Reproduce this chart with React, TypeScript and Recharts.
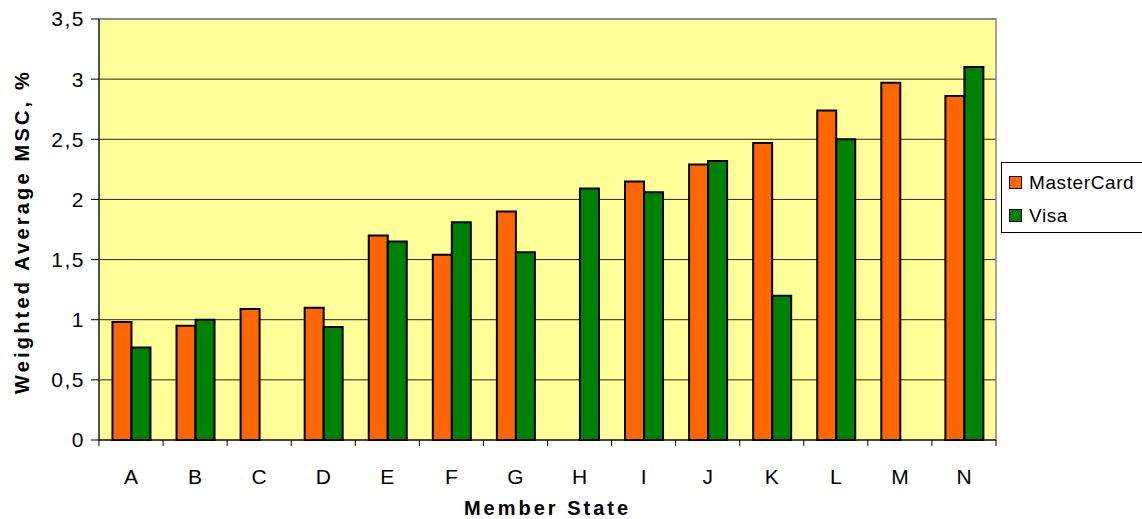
import { BarChart, Bar, XAxis, YAxis, CartesianGrid, ReferenceArea } from 'recharts';

const categories = ['A', 'B', 'C', 'D', 'E', 'F', 'G', 'H', 'I', 'J', 'K', 'L', 'M', 'N'];
const masterCard = [0.98, 0.95, 1.09, 1.1, 1.7, 1.54, 1.9, null, 2.15, 2.29, 2.47, 2.74, 2.97, 2.86];
const visa = [0.77, 1.0, null, 0.94, 1.65, 1.81, 1.56, 2.09, 2.06, 2.32, 1.2, 2.5, null, 3.1];
const yTicks = [0, 0.5, 1, 1.5, 2, 2.5, 3, 3.5];

const W = 1142;
const H = 519;
const MARGIN = { top: 19, right: 146, bottom: 0, left: 0 };
const Y_AXIS_W = 99;
const BAND = (W - MARGIN.left - MARGIN.right - Y_AXIS_W) / categories.length;
const FONT = '"Liberation Sans", Arial, sans-serif';

const data = categories.map((c, i) => ({ name: c, mc: masterCard[i], visa: visa[i] }));

// category ticks sit between the groups, like the spreadsheet original
const XTick = (props: any) => {
  const { x, y, payload, index } = props;
  const last = index === categories.length - 1;
  return (
    <g>
      <line x1={x - BAND / 2} x2={x - BAND / 2} y1={y} y2={y + 6} stroke="#000" />
      {last && <line x1={x + BAND / 2} x2={x + BAND / 2} y1={y} y2={y + 6} stroke="#000" />}
      <text x={x} y={y + 44} textAnchor="middle" fontSize={21} fontFamily={FONT} fill="#000">
        {payload.value}
      </text>
    </g>
  );
};

const YTitle = (props: any) => {
  const { viewBox } = props;
  const cx = viewBox.x + 22;
  const cy = viewBox.y + viewBox.height / 2 + 2;
  return (
    <text
      x={cx}
      y={cy}
      transform={`rotate(-90, ${cx}, ${cy})`}
      textAnchor="middle"
      dominantBaseline="central"
      fontSize={20}
      fontWeight="bold"
      letterSpacing={3.2}
      fontFamily={FONT}
      fill="#000"
    >
      Weighted Average MSC, %
    </text>
  );
};

const XTitle = (props: any) => {
  const { viewBox } = props;
  return (
    <text
      x={viewBox.x + viewBox.width / 2}
      y={viewBox.y + 75}
      textAnchor="middle"
      fontSize={20}
      fontWeight="bold"
      letterSpacing={3}
      fontFamily={FONT}
      fill="#000"
    >
      Member State
    </text>
  );
};

const LegendBox = () => (
  <div
    style={{
      position: 'absolute',
      left: 1001,
      top: 162,
      width: 160,
      height: 71,
      border: '1px solid #000',
      background: '#fff',
      fontFamily: FONT,
      fontSize: 19,
      boxSizing: 'border-box',
    }}
  >
    {[
      { name: 'MasterCard', color: '#FF6600', top: 13 },
      { name: 'Visa', color: '#008000', top: 46 },
    ].map((item) => (
      <div key={item.name} style={{ position: 'absolute', left: 7, top: item.top, display: 'flex', alignItems: 'center' }}>
        <span
          style={{
            display: 'inline-block',
            width: 11,
            height: 11,
            background: item.color,
            border: '1px solid #000',
            marginRight: 7,
          }}
        />
        <span style={{ lineHeight: '12px', letterSpacing: 0.6 }}>{item.name}</span>
      </div>
    ))}
  </div>
);

const App = () => {
  return (
    <div style={{ position: 'absolute', left: 0, top: 0, width: W, height: H, background: '#fff', overflow: 'hidden' }}>
      <BarChart width={W} height={H} data={data} margin={MARGIN} barCategoryGap="21%" barGap={0}>
        <CartesianGrid vertical={false} fill="#FFFF99" stroke="#000" strokeOpacity={0.85} />
        <ReferenceArea y1={0} y2={3.5} fill="none" stroke="#888" strokeWidth={1.5} />
        <XAxis
          dataKey="name"
          tick={<XTick />}
          tickLine={false}
          tickSize={0}
          tickMargin={0}
          axisLine={{ stroke: '#000' }}
          height={79}
          interval={0}
          label={<XTitle />}
        />
        <YAxis
          width={Y_AXIS_W}
          domain={[0, 3.5]}
          ticks={yTicks}
          tickFormatter={(v: number) => String(v).replace('.', ',')}
          tick={{ fontSize: 21, fill: '#000', fontFamily: FONT, letterSpacing: 1.5 }}
          tickSize={8}
          tickMargin={6}
          tickLine={{ stroke: '#000' }}
          axisLine={{ stroke: '#000' }}
          label={<YTitle />}
        />
        <Bar dataKey="mc" fill="#FF6600" stroke="#000" strokeWidth={2} isAnimationActive={false} />
        <Bar dataKey="visa" fill="#008000" stroke="#000" strokeWidth={2} isAnimationActive={false} />
      </BarChart>
      <LegendBox />
    </div>
  );
};

export default App;
